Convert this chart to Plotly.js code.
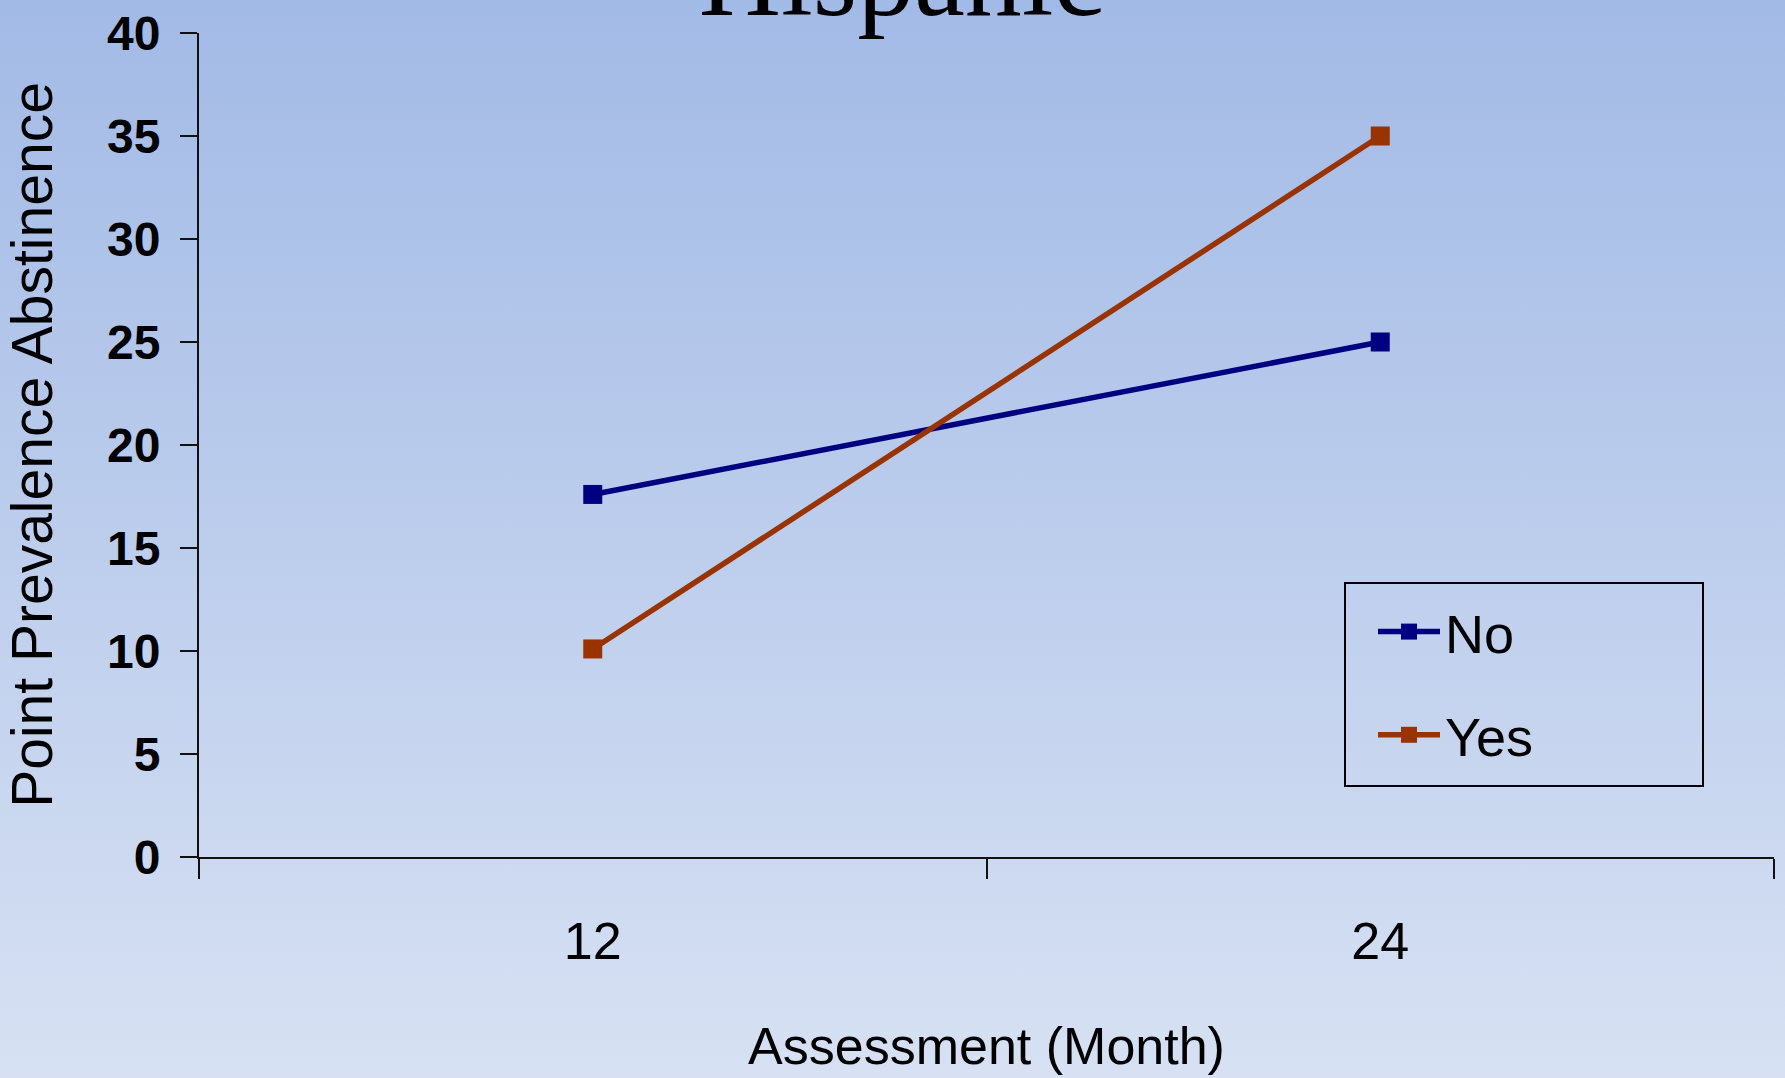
<!DOCTYPE html>
<html>
<head>
<meta charset="utf-8">
<script src="https://cdn.plot.ly/plotly-3.0.1.min.js"></script>
<style>
  html, body { margin: 0; padding: 0; }
  body { width: 1785px; height: 1078px; overflow: hidden;
         background: linear-gradient(to bottom, #A2BAE6 0%, #D7E1F3 100%); }
  #chart { width: 1785px; height: 1078px; }
</style>
</head>
<body>
<div id="chart"></div>
<script>
// Assessment months (categories)
const months = ['12', '24'];
// Point prevalence abstinence (%) by group
const noValues = [17.6, 25.0];
const yesValues = [10.1, 35.0];
const seriesNames = ['No', 'Yes'];
const yTicks = [0, 5, 10, 15, 20, 25, 30, 35, 40];

const sans = '"Liberation Sans", Arial, sans-serif';

const traces = [
  { x: months, y: noValues, name: seriesNames[0], legendgroup: 'g1', type: 'scatter', mode: 'lines+markers',
    line: { color: '#000080', width: 5.5 },
    marker: { symbol: 'square', size: 19, color: '#000080' } },
  { x: months, y: yesValues, name: seriesNames[1], legendgroup: 'g2', type: 'scatter', mode: 'lines+markers',
    line: { color: '#993300', width: 5.5 },
    marker: { symbol: 'square', size: 19, color: '#993300' } }
];

// Plot-area geometry in pixels, used to place the legend and its frame
const plotLeft = 199, plotWidth = 1575, plotBottom = 857, plotHeight = 824;
const px = v => (v - plotLeft) / plotWidth;
const py = v => (plotBottom - v) / plotHeight;

const layout = {
  width: 1785, height: 1078,
  paper_bgcolor: 'rgba(0,0,0,0)', plot_bgcolor: 'rgba(0,0,0,0)',
  margin: { l: 199, r: 11, t: 33, b: 221 },
  showlegend: true,
  title: { text: 'Hispanic', font: { family: '"Liberation Serif", "Times New Roman", serif', size: 114, color: '#000' },
           xref: 'container', x: 0.505, xanchor: 'center', yref: 'container', y: 0.986, yanchor: 'bottom' },
  xaxis: {
    type: 'category', range: [-0.5, 1.5],
    showgrid: false, zeroline: false,
    showline: true, linecolor: '#111', linewidth: 2,
    ticks: 'outside', tickson: 'boundaries', ticklen: 20, tickwidth: 2, tickcolor: '#111',
    ticklabelstandoff: 38,
    tickfont: { family: sans, size: 52, color: '#000' },
    title: { text: 'Assessment (Month)', font: { family: sans, size: 52, color: '#000' }, standoff: 58 }
  },
  yaxis: {
    range: [0, 40], tickvals: yTicks, ticktext: yTicks.map(String),
    showgrid: false, zeroline: false,
    showline: true, linecolor: '#111', linewidth: 2,
    ticks: 'outside', ticklen: 17, tickwidth: 2, tickcolor: '#111',
    ticklabelstandoff: 10,
    tickfont: { family: sans, size: 48, color: '#000', weight: 'bold' },
    title: { text: 'Point Prevalence Abstinence', font: { family: sans, size: 57, color: '#000' }, standoff: 38 }
  },
  legend: {
    x: px(1373), xref: 'paper', y: py(590), yref: 'paper',
    xanchor: 'left', yanchor: 'top',
    bgcolor: 'rgba(0,0,0,0)', borderwidth: 0,
    font: { family: sans, size: 54, color: '#000' },
    itemwidth: 62, tracegroupgap: 30
  },
  // legend frame
  shapes: [{
    type: 'rect', xref: 'paper', yref: 'paper', layer: 'above',
    x0: px(1345), x1: px(1703), y0: py(786), y1: py(583),
    line: { color: '#000', width: 2 }, fillcolor: 'rgba(0,0,0,0)'
  }]
};

Plotly.newPlot('chart', traces, layout, { displayModeBar: false, staticPlot: true });
</script>
</body>
</html>
